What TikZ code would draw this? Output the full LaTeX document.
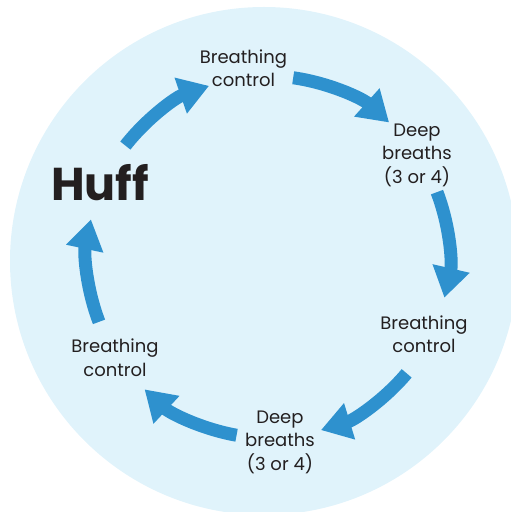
\documentclass[tikz,border=0pt]{standalone}
\usepackage{fontspec}
\setmainfont{Poppins}
\usetikzlibrary{arrows.meta}
\definecolor{huffbg}{RGB}{224,243,251}
\definecolor{huffblue}{RGB}{46,145,206}
\definecolor{hufftext}{RGB}{35,31,32}
\begin{document}
\begin{tikzpicture}[x=1pt,y=1pt,
    steptext/.style={align=center,text=hufftext,inner sep=0pt,
      font=\fontsize{18}{23.5}\selectfont},
    flow/.style={huffblue,line width=13pt,
      -{Triangle[width=36pt,length=30pt]}}]
  \useasboundingbox (0,0) rectangle (511,512);
  \clip (0,0) rectangle (511,512);
  \fill[huffbg] (264,251) circle (254);
  \begin{scope}[shift={(268,255)}]
    \draw
      (156:184) node[steptext,font=\bfseries\fontsize{46}{46}\selectfont] (huff){Huff}
      (97.4:190.6) node[steptext] (ctrl1){Breathing\\control}
      (34.4:180.6) node[steptext] (deep1){Deep\\breaths\\(3 or 4)}
      (-26.3:174) node[steptext] (ctrl2){Breathing\\control}
      (-86.3:185.4) node[steptext] (deep2){Deep\\breaths\\(3 or 4)}
      (-146.6:183.3) node[steptext] (ctrl3){Breathing\\control};
    \begin{scope}[flow]
      \draw (142:181) arc[start angle=142, end angle=109, radius=181];
      \draw (82:181) arc[start angle=82, end angle=48, radius=181];
      \draw (21:181) arc[start angle=21, end angle=-13, radius=181];
      \draw (-40:181) arc[start angle=-40, end angle=-73, radius=181];
      \draw (-100:181) arc[start angle=-100, end angle=-133, radius=181];
      \draw (-159:181) arc[start angle=-159, end angle=-192, radius=181];
    \end{scope}
  \end{scope}
\end{tikzpicture}
\end{document}
